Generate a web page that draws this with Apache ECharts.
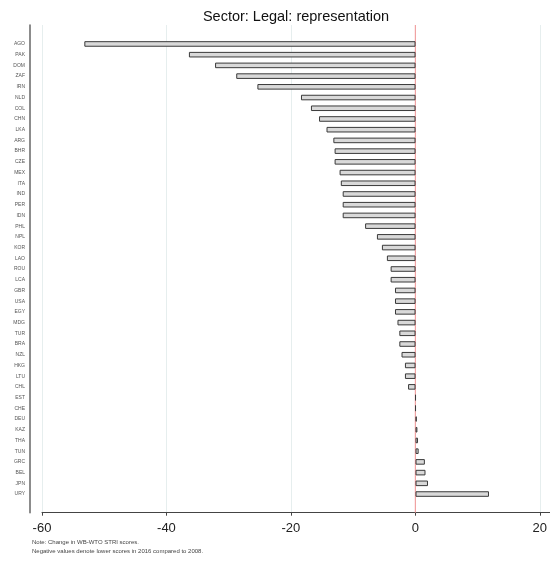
<!DOCTYPE html>
<html>
<head>
<meta charset="utf-8">
<script src="https://cdn.jsdelivr.net/npm/echarts@6/dist/echarts.min.js"></script>
<style>
  html, body { margin: 0; padding: 0; background: #fff; }
  #chart { width: 550px; height: 565px; }
</style>
</head>
<body>
<div id="chart"></div>
<script>
const countries = [
  'AGO', 'PAK', 'DOM', 'ZAF', 'IRN', 'NLD', 'COL', 'CHN', 'LKA', 'ARG',
  'BHR', 'CZE', 'MEX', 'ITA', 'IND', 'PER', 'IDN', 'PHL', 'NPL', 'KOR',
  'LAO', 'ROU', 'LCA', 'GBR', 'USA', 'EGY', 'MDG', 'TUR', 'BRA', 'NZL',
  'HKG', 'LTU', 'CHL', 'EST', 'CHE', 'DEU', 'KAZ', 'THA', 'TUN', 'GRC',
  'BEL', 'JPN', 'URY'
];
const change = [
  -53.2, -36.4, -32.2, -28.8, -25.4, -18.4, -16.8, -15.5, -14.3, -13.2,
  -13.0, -13.0, -12.2, -12.0, -11.7, -11.7, -11.7, -8.1, -6.2, -5.4,
  -4.6, -4.0, -4.0, -3.3, -3.3, -3.3, -2.9, -2.6, -2.6, -2.25,
  -1.7, -1.7, -1.2, 0, 0, 0.2, 0.3, 0.4, 0.5, 1.5,
  1.6, 2.0, 11.8
];
const xTicks = [-60, -40, -20, 0, 20];
// reference line at zero, spanning the full plot height (0..1 on the frame axis)
const zeroLine = [[0, 0], [0, 1]];

const X_MIN = -60, X_MAX = 21.6;
const FONT = 'Liberation Sans, Arial, sans-serif';

const chart = echarts.init(document.getElementById('chart'));
chart.setOption({
  animation: false,
  title: {
    text: 'Sector: Legal: representation',
    left: 291, top: 4, textAlign: 'center',
    textStyle: { fontFamily: FONT, fontSize: 14.5, fontWeight: 'normal', color: '#111' }
  },
  grid: [
    { left: 42, right: 0, top: 38.6, bottom: 65.6 },  // bars
    { left: 42, right: 0, top: 25, bottom: 52.3 }     // frame, ticks, zero line
  ],
  xAxis: [
    { gridIndex: 0, type: 'value', min: X_MIN, max: X_MAX, interval: 20, show: false },
    {
      gridIndex: 1, type: 'value', min: X_MIN, max: X_MAX, interval: 20,
      axisLine: { show: true, onZero: false, lineStyle: { color: '#444', width: 1 } },
      axisTick: { show: true, length: 3, customValues: xTicks, lineStyle: { color: '#444' } },
      axisLabel: {
        margin: 9, fontFamily: FONT, fontSize: 13, color: '#222',
        customValues: xTicks,
        formatter: v => xTicks.includes(v) ? String(v) : ''
      },
      splitLine: { show: true, lineStyle: { color: '#e6eeee', width: 1 } }
    }
  ],
  yAxis: [
    {
      gridIndex: 0, type: 'category', data: countries, inverse: true, offset: 12,
      axisLine: { show: false },
      axisTick: { show: false },
      axisLabel: { interval: 0, margin: 5, fontFamily: FONT, fontSize: 5, color: '#555' }
    },
    {
      gridIndex: 1, type: 'value', min: 0, max: 1, offset: 12,
      axisLine: { show: true, onZero: false, lineStyle: { color: '#666', width: 1.5 } },
      axisTick: { show: false }, axisLabel: { show: false }, splitLine: { show: false }
    }
  ],
  series: [
    {
      type: 'line', xAxisIndex: 1, yAxisIndex: 1,
      data: zeroLine,
      symbol: 'none', silent: true, z: 1,
      lineStyle: { color: '#f29292', width: 1 }
    },
    {
      type: 'bar', xAxisIndex: 0, yAxisIndex: 0,
      data: change,
      barWidth: '52%',
      itemStyle: { color: '#d9d9d9', borderColor: '#3a3a3a', borderWidth: 1 },
      silent: true, z: 2
    }
  ],
  graphic: [
    {
      type: 'text', left: 32, top: 539,
      style: { text: 'Note: Change in WB-WTO STRI scores.', font: '6px ' + FONT, fill: '#444' }
    },
    {
      type: 'text', left: 32, top: 548,
      style: { text: 'Negative values denote lower scores in 2016 compared to 2008.', font: '6px ' + FONT, fill: '#444' }
    }
  ]
});
</script>
</body>
</html>
